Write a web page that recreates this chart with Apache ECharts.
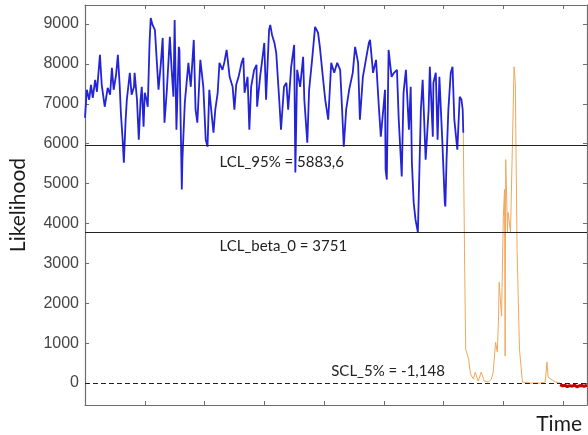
<!DOCTYPE html>
<html>
<head>
<meta charset="utf-8">
<script src="https://cdn.jsdelivr.net/npm/echarts@6/dist/echarts.min.js"></script>
<style>
  html, body { margin: 0; padding: 0; background: #fff; }
  #chart { width: 588px; height: 435px; }
</style>
</head>
<body>
<div id="chart"></div>
<script>
// in-control phase (blue)
var blueTime = [0,3,7,10,13,17,20,25,28,33,38,42,45,48,52,55,58,60,63,65,68,70,75,78,82,83,87,90,93,95,98,100,103,105,108,110,113,117,120,123,127,130,133,137,142,145,148,150,153,157,158,162,163,167,170,173,177,182,185,188,193,198,202,205,208,212,215,218,222,225,230,233,237,242,247,250,253,257,262,265,267,272,275,278,283,287,288,293,298,300,303,308,310,313,317,320,325,328,333,337,340,345,350,352,355,360,365,367,372,375,380,385,390,393,398,402,407,412,417,422,427,430,433,437,442,448,452,457,460,465,470,475,477,482,487,492,495,498,502,503,505,508,513,517,522,525,530,533,537,542,545,547,550,553,557,560,562,565,570,575,577,582,583,587,590,593,598,602,603,605,608,612,615,618,623,627,630,632,633]
var blueLik = [6650,7350,7100,7475,7150,7600,7300,8225,7475,6925,7400,7225,7900,7350,7725,8225,7475,6775,6100,5525,6600,7100,7775,7225,7425,7775,7100,6100,7100,7425,6425,7275,7100,6925,8525,9150,8975,8850,8100,7350,8025,8650,6525,7350,8675,7850,7175,9100,6350,8425,8350,4850,5600,7025,7525,8025,7425,8600,6850,6525,8100,7425,6100,5925,7350,6725,6275,6850,7275,8025,7850,8025,8350,7675,7425,6850,7475,7675,8025,8150,7275,7675,6350,7425,7850,7975,6925,7675,8275,8525,7100,8850,8975,8725,8525,8275,7100,6350,7425,7525,6850,7925,8475,5275,7850,7425,8175,7100,6025,7350,8100,8925,8775,8425,7675,7100,6600,8025,7775,8025,7850,6925,5925,6850,7350,7775,8425,8025,6600,7675,8100,8525,8600,7775,8100,6850,6175,6675,7350,5350,5100,8350,7675,7775,7850,6600,5175,7275,7850,6350,7425,5525,4525,4100,3775,5600,6850,7600,5600,6850,7925,6175,7525,7775,6100,7675,6025,4525,4425,5600,6850,7775,7925,6600,5850,7175,7100,6850,6275]

// out-of-control phase (orange)
var orangeTime = [633,635,637,642,645,650,653,658,663,668,675,680,683,687,690,692,693,697,700,702,703,704,707,708,712,715,718,720,723,727,732,745,762,770,773,775,778,782,787,795]
var orangeLik = [6275,3350,850,600,225,100,275,50,275,50,25,100,275,1025,775,1675,2525,1675,4175,4850,675,5600,3775,4275,3775,5850,7925,7525,3350,850,25,0,0,25,525,150,100,75,25,0]

// final phase (red)
var redTime = [795,799,803,807,811,815,819,823,827,831,835,840]
var redLik = [-40,-70,-55,-90,-65,-80,-50,-95,-70,-60,-85,-55]

// control limits
var limitValues = [5950, 3790, 0]
var limitLabels = ['LCL_95% = 5883,6', 'LCL_beta_0 = 3751', 'SCL_5% = -1,148']
var labelSpots = [[225, 5525], [225, 3425], [412, 290]]

function pairs(xs, ys) {
  return xs.map(function (x, i) { return [x, ys[i]] })
}

var chart = echarts.init(document.getElementById('chart'))

var axisGray = '#6e6e6e'
var baseX = {
  type: 'value', min: 0, max: 840, interval: 100,
  axisLine: { onZero: false, lineStyle: { color: axisGray, width: 1.2 } },
  axisTick: { inside: true, length: 4, lineStyle: { color: axisGray } },
  axisLabel: { show: false },
  splitLine: { show: false }
}
var baseY = {
  type: 'value', min: -550, max: 9475, splitNumber: 10,
  axisLine: { show: true, onZero: false, lineStyle: { color: axisGray, width: 1.2 } },
  axisTick: { show: true, inside: true, length: 4, lineStyle: { color: axisGray } },
  splitLine: { show: false }
}

chart.setOption({
  animation: false,
  grid: { left: 83, top: 5, right: 1, bottom: 29 },
  xAxis: [
    Object.assign({}, baseX, {
      position: 'bottom',
      name: 'Time',
      nameLocation: 'end',
      nameGap: -5,
      nameTextStyle: {
        fontFamily: 'Lato', fontSize: 21, color: '#1a1a1a',
        align: 'right', verticalAlign: 'top', padding: [9, 0, 0, 0]
      }
    }),
    Object.assign({}, baseX, { position: 'top' })
  ],
  yAxis: [
    Object.assign({}, baseY, {
      position: 'left',
      name: 'Likelihood',
      nameLocation: 'middle',
      nameGap: 56,
      nameTextStyle: { fontFamily: 'Lato', fontSize: 21, color: '#1a1a1a' },
      axisLabel: {
        margin: 6, fontFamily: 'Liberation Sans', fontSize: 16, color: '#454545',
        formatter: function (v) { return v % 1000 === 0 ? String(v) : '' }
      }
    }),
    Object.assign({}, baseY, { position: 'right', axisLabel: { show: false } })
  ],
  series: [
    {
      name: 'in control', type: 'line', showSymbol: false, z: 3,
      data: pairs(blueTime, blueLik),
      lineStyle: { color: '#2323d8', width: 1.8 },
      markLine: {
        silent: true, symbol: ['none', 'none'], label: { show: false },
        lineStyle: { color: '#222', width: 1.2, type: 'solid' },
        data: [
          { yAxis: limitValues[0] },
          { yAxis: limitValues[1] },
          { yAxis: limitValues[2], lineStyle: { type: [5, 3], color: '#222', width: 1.2 } }
        ]
      },
      markPoint: {
        symbol: 'circle', symbolSize: 0, silent: true,
        label: {
          show: true, position: 'right', distance: 0,
          fontFamily: 'Lato', fontSize: 15, color: '#222',
          formatter: function (p) { return p.name }
        },
        data: limitLabels.map(function (txt, i) {
          return { name: txt, coord: labelSpots[i] }
        })
      }
    },
    {
      name: 'out of control', type: 'line', showSymbol: false, z: 2,
      data: pairs(orangeTime, orangeLik),
      lineStyle: { color: '#f2a65a', width: 1 }
    },
    {
      name: 'after', type: 'line', showSymbol: false, z: 2,
      data: pairs(redTime, redLik),
      lineStyle: { color: '#c40000', width: 3 }
    }
  ]
})
</script>
</body>
</html>
